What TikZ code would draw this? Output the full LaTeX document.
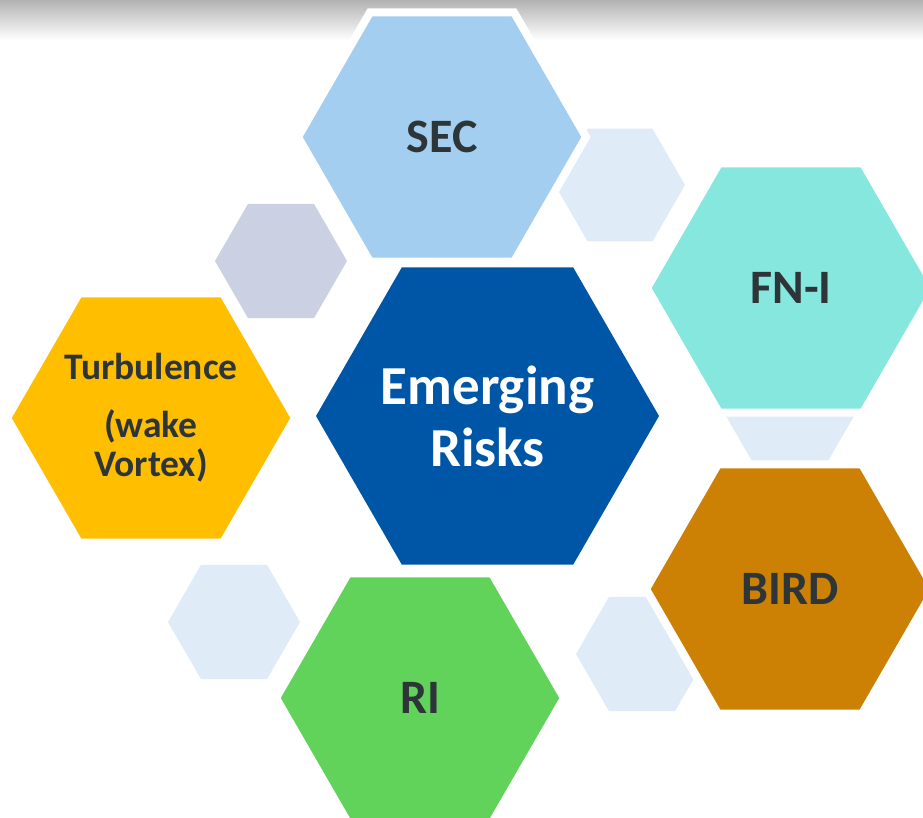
\documentclass[tikz,border=0pt]{standalone}
\usepackage{fontspec}
\setmainfont{Carlito}
\usetikzlibrary{shapes.geometric}
\definecolor{txtgray}{HTML}{2E3538}
\definecolor{paleblue}{HTML}{DFEBF7}
\definecolor{palegray}{HTML}{CBD1E3}
\definecolor{secblue}{HTML}{A3CEEF}
\definecolor{fniteal}{HTML}{86E7DE}
\definecolor{birdbrown}{HTML}{CC8104}
\definecolor{rigreen}{HTML}{62D35A}
\definecolor{turbyellow}{HTML}{FFBF00}
\definecolor{coreblue}{HTML}{0056A6}

\begin{document}
\begin{tikzpicture}[x=1pt,y=-1pt,
  hex/.style={regular polygon,regular polygon sides=6,inner sep=0pt,outer sep=0pt},
  bighex/.style={hex,draw=white,line width=8pt,minimum size=288pt},
  smallhex/.style={hex,minimum size=132pt},
  lbl/.style={text=txtgray,font=\bfseries\fontsize{48}{56}\selectfont}]
\clip (0,0) rectangle (923,817);
\shade[top color=black!30,bottom color=white] (0,0) rectangle (923,40);

% small pale hexagons behind
\node[smallhex,fill=paleblue,minimum size=130pt] (pale1) at (620,185) {};
\node[smallhex,fill=palegray] (pale2) at (281,261) {};
\node[smallhex,fill=paleblue,minimum size=128pt] (pale3) at (790,416) {};
\node[smallhex,fill=paleblue] (pale4) at (234,622) {};
\node[smallhex,fill=paleblue] (pale5) at (642,654) {};

% risk hexagons
\node[bighex,fill=secblue] (sec) at (442,137) {};
\node[bighex,fill=fniteal] (fni) at (791,288) {};
\node[bighex,fill=birdbrown] (bird) at (790,589) {};
\node[bighex,fill=rigreen] (ri) at (420,698) {};
\node[bighex,fill=turbyellow] (turb) at (151,418) {};
\node[hex,minimum size=343pt,fill=coreblue] (core) at (487.5,416) {};

\node[lbl] (sectext) at (sec) {SEC};
\node[lbl] (fnitext) at (fni) {FN-I};
\node[lbl] (birdtext) at (bird) {BIRD};
\node[lbl] (ritext) at (ri) {RI};
\node[lbl,font=\bfseries\fontsize{37.5}{39}\selectfont,align=center] (turbtext) at (turb) {Turbulence\\[19pt](wake\\Vortex)};
\node[text=white,font=\bfseries\fontsize{55}{62}\selectfont,align=center] (coretext) at (core) {Emerging\\Risks};
\end{tikzpicture}
\end{document}
